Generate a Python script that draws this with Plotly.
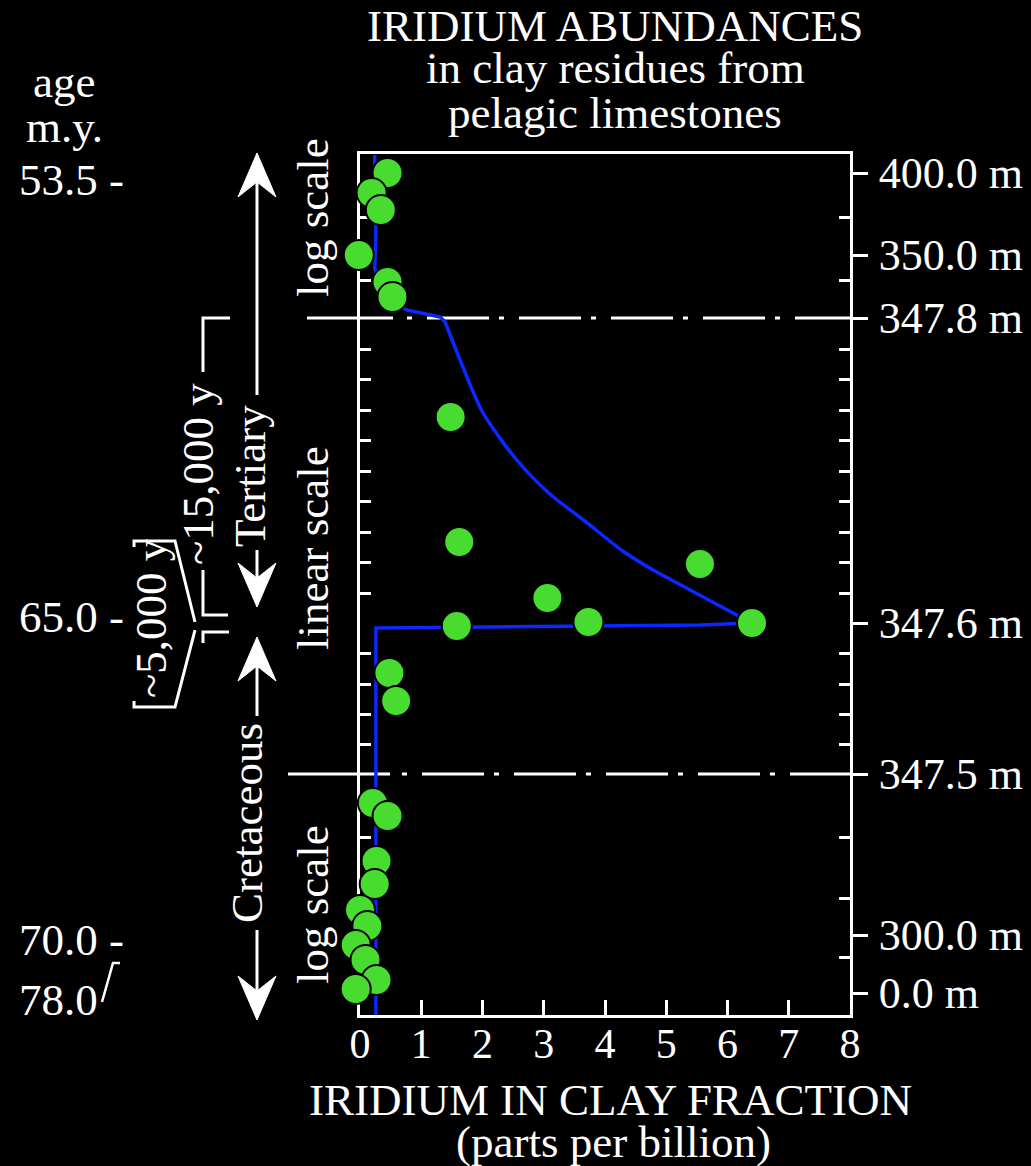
import plotly.graph_objects as go

# ---------------- figure geometry ----------------
W, H = 1031, 1166
ML, MR, MT, MB = 300, 181, 154, 151
FRAME_L, FRAME_R = 360, 850           # left / right frame of the chart box (px)
PW = W - ML - MR                      # plotting width incl. strip left of frame
PH = H - MT - MB                      # plot height (861 px)
Y_MAX = 861                           # vertical "scale position" range (log / linear / log sections)
X_MAX = 8
UNIT = (FRAME_R - FRAME_L) / X_MAX    # px per ppb
X_DOM0 = (FRAME_L - ML) / PW
X2_MIN = -(FRAME_L - ML) / UNIT       # same ppb scale, extended left so edge samples show

# ---------------- data ----------------
# iridium (ppb) and vertical scale position of every sample, top to bottom
ir_ppb = [0.45, 0.19, 0.34, -0.02, 0.45, 0.53,
          1.48, 1.62, 5.55, 3.06, 3.73, 6.40, 1.58, 0.48, 0.59,
          0.21, 0.45, 0.27, 0.24, 0.00, 0.12, -0.07, 0.09, 0.27, -0.07]
scale_pos = [842, 822, 805, 760, 733, 718,
             598, 473, 451, 417, 393, 392, 389, 342, 314,
             212, 199, 154, 131, 105, 89, 70, 55, 35, 26]

# model curve (background level + spike with decay)
curve_ir = [0.24, 0.26, 0.24, 0.33, 0.59, 0.77, 1.31, 1.39, 1.68, 2.01, 2.56, 3.10,
            3.67, 4.29, 4.73, 5.39, 6.09, 6.38, 5.55, 0.26, 0.26]
curve_pos = [860, 780, 747, 725, 710, 705, 698, 693, 648, 602, 555, 521,
             494, 464, 447, 425, 402, 392, 390, 387, 0]

x_ticks = [0, 1, 2, 3, 4, 5, 6, 7, 8]
depth_tick_pos = [842, 760, 697, 392, 241, 80, 22]
depth_tick_text = ["400.0 m", "350.0 m", "347.8 m", "347.6 m", "347.5 m", "300.0 m", "0.0 m"]
minor_tick_pos = [798, 735, 666, 636, 605, 575, 544, 514, 483, 453, 422,
                  362, 331, 301, 271, 178, 117, 58]
boundary_pos = [697, 241]          # 347.8 m and 347.5 m section boundaries
age_labels = ["53.5 -", "65.0 -", "70.0 -", "78.0"]

FONT = "Liberation Serif, Times New Roman, serif"
WHITE = "white"
BLUE = "#0A28FF"
FS = 45


def px(x):
    return (x - ML) / PW


def py(y):
    return (H - MB - y) / PH


fig = go.Figure()

# model curve: background part, smooth decay, return + lower background
for a, b, shape in [(0, 8, "linear"), (7, 18, "spline"), (17, 21, "linear")]:
    fig.add_trace(go.Scatter(
        x=curve_ir[a:b], y=curve_pos[a:b], mode="lines", xaxis="x2", yaxis="y",
        line=dict(color=BLUE, width=3.5, shape=shape, smoothing=0.8),
        hoverinfo="skip", showlegend=False, cliponaxis=False))

fig.add_trace(go.Scatter(
    x=ir_ppb, y=scale_pos, mode="markers", xaxis="x2", yaxis="y",
    marker=dict(size=30, color="#48DC30", line=dict(color="black", width=2)),
    showlegend=False, cliponaxis=False))

# empty traces to carry the visible frame axes
fig.add_trace(go.Scatter(x=[], y=[], xaxis="x", yaxis="y", showlegend=False, hoverinfo="skip"))
fig.add_trace(go.Scatter(x=[], y=[], xaxis="x", yaxis="y2", showlegend=False, hoverinfo="skip"))

shapes = []
# dash-dot section boundaries
starts = [(307, 393, 407), (288, 390, 402)]
for bp, (x0, x1, x2) in zip(boundary_pos, starts):
    yp = bp / Y_MAX
    shapes.append(dict(type="line", xref="paper", yref="paper", x0=px(x0), x1=px(x1),
                       y0=yp, y1=yp, line=dict(color=WHITE, width=3), layer="below"))
    shapes.append(dict(type="line", xref="paper", yref="paper", x0=px(x2), x1=px(FRAME_R),
                       y0=yp, y1=yp, line=dict(color=WHITE, width=3, dash="5px,15px,62px,10px"),
                       layer="below"))


def seg(points, width=3):
    d = "M " + " L ".join(f"{px(a):.5f},{py(b):.5f}" for a, b in points)
    shapes.append(dict(type="path", xref="paper", yref="paper", path=d,
                       line=dict(color=WHITE, width=width)))


def head(tx, ty, d):
    pts = [(tx, ty), (tx - 19, ty + d * 44), (tx, ty + d * 29), (tx + 19, ty + d * 44)]
    path = "M " + " L ".join(f"{px(a):.5f},{py(b):.5f}" for a, b in pts) + " Z"
    shapes.append(dict(type="path", xref="paper", yref="paper", path=path,
                       fillcolor=WHITE, line=dict(color=WHITE, width=1)))


AX = 257
# Tertiary arrow
head(AX, 153, 1)
seg([(AX, 180), (AX, 395)])
seg([(AX, 550), (AX, 585)])
head(AX, 607, -1)
# Cretaceous arrow
head(AX, 637, 1)
seg([(AX, 660), (AX, 716)])
seg([(AX, 930), (AX, 995)])
head(AX, 1020, -1)

# ~15,000 y bracket
seg([(230, 318), (203, 318), (203, 372)])
seg([(203, 570), (203, 615), (228, 615)])
seg([(203, 643), (203, 632), (229, 632)])
# ~5,000 y bracket
seg([(134, 547), (134, 541), (175, 541), (195, 622)])
seg([(195, 630), (175, 707), (134, 707), (134, 701)])
# 78.0 bracket
seg([(102, 1002), (113, 963), (120, 963)], width=2.5)

annotations = []


def txt(text, x, y, size=FS, xanchor="center", angle=0):
    annotations.append(dict(text=text, x=px(x), y=py(y), xref="paper", yref="paper",
                            showarrow=False, xanchor=xanchor, yanchor="middle",
                            textangle=angle, borderpad=0,
                            font=dict(family=FONT, size=size, color=WHITE)))


# title
txt("IRIDIUM ABUNDANCES", 615, 26)
txt("in clay residues from", 615, 68)
txt("pelagic limestones", 615, 113)
# x-axis title
txt("IRIDIUM IN CLAY FRACTION", 610, 1100)
txt("(parts per billion)", 613, 1142)
# age column
txt("age", 64, 82)
txt("m.y.", 64, 127)
for lab, yb in zip(age_labels, [180, 617, 940, 1000]):
    txt(lab, 18, yb, xanchor="left")
# rotated labels
txt("log scale", 313, 218, angle=-90)
txt("linear scale", 313, 548, angle=-90)
txt("log scale", 313, 905, angle=-90)
txt("Tertiary", 250, 476, angle=-90)
txt("Cretaceous", 247, 823, angle=-90)
txt("~15,000 y", 198, 474, angle=-90)
txt("~5,000 y", 151, 618, angle=-90)

fig.update_layout(
    width=W, height=H,
    margin=dict(l=ML, r=MR, t=MT, b=MB, pad=0, autoexpand=False),
    paper_bgcolor="black", plot_bgcolor="rgba(0,0,0,0)",
    showlegend=False,
    shapes=shapes, annotations=annotations,
    xaxis=dict(domain=[X_DOM0, 1], range=[0, X_MAX], anchor="y", tickvals=x_ticks,
               ticks="inside", ticklen=15, tickwidth=3, automargin=False,
               tickcolor=WHITE, showline=True, linecolor=WHITE, linewidth=3, mirror=True,
               showgrid=False, zeroline=False, ticklabelstandoff=-10,
               tickfont=dict(family=FONT, size=42, color=WHITE)),
    xaxis2=dict(domain=[0, 1], range=[X2_MIN, X_MAX], anchor="y", visible=False,
                automargin=False),
    yaxis=dict(range=[0, Y_MAX], side="right", anchor="x", tickvals=depth_tick_pos,
               ticktext=depth_tick_text, automargin=False,
               ticks="outside", ticklen=15, tickwidth=3, tickcolor=WHITE,
               showline=True, linecolor=WHITE, linewidth=3, showgrid=False, zeroline=False,
               ticklabelstandoff=2, tickfont=dict(family=FONT, size=44, color=WHITE),
               minor=dict(tickmode="array", tickvals=minor_tick_pos, ticks="inside",
                          ticklen=11, tickwidth=3, tickcolor=WHITE, showgrid=False)),
    yaxis2=dict(range=[0, Y_MAX], overlaying="y", side="left", anchor="x",
                tickvals=minor_tick_pos, ticks="inside", ticklen=11, tickwidth=3,
                tickcolor=WHITE, showticklabels=False, showline=True, linecolor=WHITE,
                linewidth=3, showgrid=False, zeroline=False, automargin=False),
)

fig.write_html("out.html")
